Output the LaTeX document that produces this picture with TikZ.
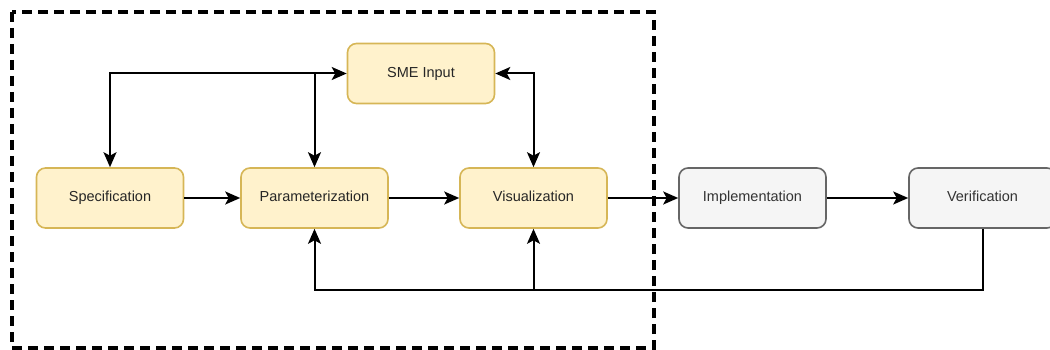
\documentclass[tikz,border=0pt]{standalone}
\usepackage{fontspec}
\setmainfont{Liberation Sans}
\usetikzlibrary{arrows.meta}
\definecolor{yfill}{HTML}{FFF2CC}
\definecolor{ydraw}{HTML}{D6B656}
\definecolor{gfill}{HTML}{F5F5F5}
\definecolor{gdraw}{HTML}{666666}
\definecolor{gtext}{HTML}{333333}
\tikzset{
  stage/.style={rectangle, rounded corners=9pt, minimum width=147pt, minimum height=60pt,
    line width=1.6pt, font=\fontsize{14.5}{17}\selectfont, inner sep=0pt,
    text height=10.5pt, text depth=3pt},
  ystage/.style={stage, fill=yfill, draw=ydraw, text=black!85},
  gstage/.style={stage, fill=gfill, draw=gdraw, text=gtext},
  tip/.tip={Stealth[length=15pt, width=13pt, inset=3.5pt]},
  flow/.style={line width=2pt, -tip},
  both/.style={line width=2pt, tip-tip},
  frame/.style={line width=3.2pt, dash pattern=on 10pt off 6pt}
}
\begin{document}
\begin{tikzpicture}[x=1pt, y=-1pt]
\useasboundingbox (0,0) rectangle (1050,350);

% process stages
\node[ystage] (sme)   at (421,73.5) {SME Input};
\node[ystage] (spec)  at (110,198)  {Specification};
\node[ystage] (param) at (314.5,198) {Parameterization};
\node[ystage] (vis)   at (533.5,198) {Visualization};
\node[gstage] (impl)  at (752.5,198) {Implementation};
\node[gstage] (ver)   at (982.5,198) {Verification};

% junction points
\coordinate (top) at (314.5,73.5);
\coordinate (fb)  at (533.5,290);

% main flow
\draw[flow] (spec) -- (param);
\draw[flow] (param) -- (vis);
\draw[flow] (vis) -- (impl);
\draw[flow] (impl) -- (ver);

% SME input loop
\draw[both] (spec.north) |- (sme.west);
\draw[flow] (top) -- (param.north);
\draw[both] (sme.east) -| (vis.north);

% feedback from verification
\draw[flow] (ver.south) |- (fb) -| (param.south);
\draw[flow] (fb) -- (vis.south);

% scope boundary
\draw[frame] (12,12) rectangle (654,348);
\end{tikzpicture}
\end{document}
